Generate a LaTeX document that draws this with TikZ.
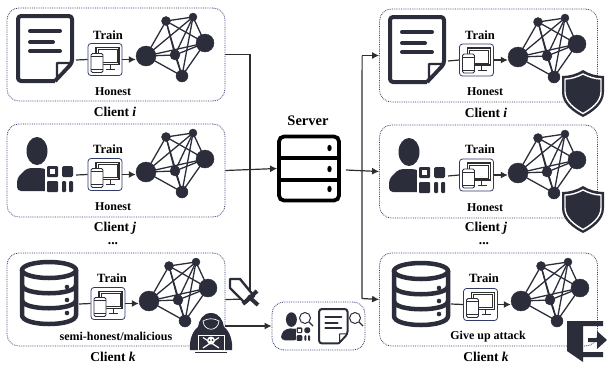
\documentclass[tikz,border=0pt]{standalone}
\usepackage{fontspec}
\setmainfont{Liberation Serif}
\usetikzlibrary{arrows.meta}
\definecolor{inkdark}{HTML}{2B2D3A}
\definecolor{boxnavy}{HTML}{2F3A6B}
\definecolor{wiregray}{HTML}{2E2E2E}
\newcommand{\bfsize}[1]{\fontsize{#1}{#1}\selectfont\bfseries}
\tikzset{
    clientbox/.style={draw=boxnavy,densely dotted,line width=0.8pt,rounded corners=12pt,minimum width=218pt,minimum height=93pt,inner sep=0pt},
    trainbox/.style={draw=boxnavy,line width=0.8pt,rounded corners=3pt,minimum width=34pt,minimum height=32pt,inner sep=0pt},
    netdot/.style={circle,fill=inkdark,draw=inkdark,inner sep=0pt},
    flow/.style={draw=wiregray,line width=1.2pt},
    flowtip/.style={flow,-{Latex[length=7pt,width=7pt]}},
    trainlbl/.style={inner sep=0pt,font=\bfsize{12.6}},
    statelbl/.style={inner sep=0pt,font=\bfsize{12}},
    clientlbl/.style={inner sep=0pt,font=\bfsize{13.5}},
    netw/.pic={
        \node[netdot,minimum size=20pt] (-l) at (0,0) {};
        \node[netdot,minimum size=9pt] (-t) at (20,-35) {};
        \node[netdot,minimum size=8pt] (-u) at (47,-39) {};
        \node[netdot,minimum size=18pt] (-r) at (59,-13) {};
        \node[netdot,minimum size=10pt] (-c) at (29,-1) {};
        \node[netdot,minimum size=12pt] (-b) at (36,20) {};
        \foreach \a/\b in {l/t,l/u,l/c,l/b,t/u,t/c,t/b,t/r,u/r,u/c,u/b,r/c,r/b,c/b,l/r}
            \draw[inkdark,line width=1.3pt] (-\a.center) -- (-\b.center);
    },
    docicon/.pic={
        \draw[inkdark,rounded corners=3pt,fill=white,line join=round] (37,65) -- (0,65) -- (0,0) -- (54,0) -- (54,47) -- (37,65);
        \draw[inkdark,fill=white,line join=round,line width=0.75*\pgflinewidth] (39,62) -- (39,47) -- (53,47) -- cycle;
        \draw[inkdark,line cap=round] (12,15) -- (42,15);
        \draw[inkdark,line cap=round] (12,26) -- (35,26);
        \draw[inkdark,line cap=round] (12,35) -- (42,35);
    },
    usericon/.pic={
        \fill[inkdark] (20,3) ellipse[x radius=10.5,y radius=14];
        \fill[inkdark,rounded corners=4pt] (0,43) -- (0,30) -- (10,20) -- (26,20) -- (33,23) -- (33,43) -- cycle;
        \fill[white] (28,17) rectangle (58,46);
        \fill[inkdark,rounded corners=1pt] (30,18) rectangle (41,29);
        \fill[white] (33,21) rectangle (38,26);
        \fill[inkdark,rounded corners=1.5pt] (45,18) rectangle (56,29);
        \fill[inkdark,rounded corners=1pt] (30,33) rectangle (41,44);
        \fill[inkdark,rounded corners=1pt] (45,33) rectangle (49,44);
        \fill[inkdark,rounded corners=1pt] (52,33) rectangle (56,44);
    },
    dbicon/.pic={
        \draw[inkdark,fill=white] (0,9) -- (0,54) .. controls (0,66) and (54,66) .. (54,54) -- (54,9);
        \draw[inkdark] (27,9) ellipse[x radius=27,y radius=8];
        \draw[inkdark] (0,24) .. controls (0,35) and (54,35) .. (54,24);
        \draw[inkdark] (0,39) .. controls (0,50) and (54,50) .. (54,39);
        \foreach \dy in {26,39,52} \fill[inkdark] (45,\dy) circle[radius=2.3];
    },
    devices/.pic={
        \draw[wiregray,line width=1.4pt,fill=white] (-9,-12) rectangle (14,5);
        \draw[wiregray,line width=0.6pt] (-7,-10) rectangle (12,3);
        \draw[inkdark,line width=0.6pt] (5,5) -- (5,10) -- (10,10);
        \draw[inkdark,line width=0.6pt] (1,10) -- (5,10);
        \draw[inkdark,line width=0.8pt,fill=white,rounded corners=1.5pt] (-14,-6) rectangle (-2,13);
        \draw[inkdark,line width=0.5pt] (-14,-3) -- (-2,-3);
        \draw[inkdark,line width=0.5pt] (-14,10) -- (-2,10);
    },
    shieldicon/.pic={
        \fill[inkdark] (0,0) .. controls (6,4) and (14,6) .. (21,6) -- (21,22) .. controls (21,34) and (10,42) .. (0,47) .. controls (-10,42) and (-21,34) .. (-21,22) -- (-21,6) .. controls (-14,6) and (-6,4) .. (0,0) -- cycle;
        \draw[white,line width=1.4pt] (0,4) .. controls (6,7) and (12,9) .. (18,9) -- (18,22) .. controls (18,32) and (8,39) .. (0,43.5) .. controls (-8,39) and (-18,32) .. (-18,22) -- (-18,9) .. controls (-12,9) and (-6,7) .. (0,4) -- cycle;
    },
    lensicon/.pic={
        \draw[inkdark,line width=1pt,fill=white] (0,0) circle[radius=5.5];
        \draw[inkdark,line width=1.2pt] (4,4) -- (8,8);
    }
}
\begin{document}
\begin{tikzpicture}[x=1pt,y=-1pt]
    \useasboundingbox (0,0) rectangle (607,365);

    % left column
    \node[clientbox] (boxi) at (116,54.5) {};
    \node[clientbox] (boxj) at (116,170.5) {};
    \node[clientbox] (boxk) at (116,299.5) {};

    \pic[line width=4pt] at (18,16) {docicon};
    \node[trainlbl] (traini) at (108,35) {Train};
    \coordinate (srci) at (76,60);
    \node[trainbox] (devi) at (105,59.5) {};
    \pic at (devi.center) {devices};
    \pic (neti) at (146,56) {netw};
    \draw[flow] (srci) -- (devi.west);
    \draw[flowtip] (devi.east) -- (devi.east -| neti-l.west);
    \node[statelbl] (honi) at (113,92) {Honest};
    \node[clientlbl] (cli) at (115,112) {Client \textit{i}};

    \pic at (17,148) {usericon};
    \node[trainlbl] (trainj) at (108,149) {Train};
    \coordinate (srcj) at (76,175);
    \node[trainbox] (devj) at (105,174.5) {};
    \pic at (devj.center) {devices};
    \pic (netj) at (146,172) {netw};
    \draw[flow] (srcj) -- (devj.west);
    \draw[flowtip] (devj.east) -- (devj.east -| netj-l.west);
    \node[statelbl] (honj) at (113,207) {Honest};
    \node[clientlbl] (clj) at (115,228) {Client \textit{j}};
    \node[clientlbl] (dotsl) at (113,243.5) {...};

    \pic[line width=4.5pt] at (22,261) {dbicon};
    \node[trainlbl] (traink) at (112,278) {Train};
    \coordinate (srck) at (79,304);
    \node[trainbox] (devk) at (108,303.5) {};
    \pic at (devk.center) {devices};
    \pic (netk) at (149,301) {netw};
    \draw[flow] (srck) -- (devk.west);
    \draw[flowtip] (devk.east) -- (devk.east -| netk-l.west);
    \node[statelbl] (honk) at (116,336) {semi-honest/malicious};
    \node[clientlbl] (clk) at (113,357) {Client \textit{k}};

    % right column
    \node[clientbox] (rboxi) at (488.5,55.5) {};
    \node[clientbox] (rboxj) at (488.5,171.5) {};
    \node[clientbox] (rboxk) at (488.5,299.5) {};

    \pic[line width=4pt] at (390,17) {docicon};
    \node[trainlbl] (rtraini) at (480,35) {Train};
    \coordinate (rsrci) at (448,61);
    \node[trainbox] (rdevi) at (476.5,60) {};
    \pic at (rdevi.center) {devices};
    \pic (rneti) at (518,57) {netw};
    \draw[flow] (rsrci) -- (rdevi.west);
    \draw[flowtip] (rdevi.east) -- (rdevi.east -| rneti-l.west);
    \node[statelbl] (rhoni) at (485,92) {Honest};
    \node[clientlbl] (rcli) at (486,113) {Client \textit{i}};
    \pic at (583,70) {shieldicon};

    \pic at (389,149) {usericon};
    \node[trainlbl] (rtrainj) at (480,149) {Train};
    \coordinate (rsrcj) at (448,176);
    \node[trainbox] (rdevj) at (476.5,175) {};
    \pic at (rdevj.center) {devices};
    \pic (rnetj) at (518,173) {netw};
    \draw[flow] (rsrcj) -- (rdevj.west);
    \draw[flowtip] (rdevj.east) -- (rdevj.east -| rnetj-l.west);
    \node[statelbl] (rhonj) at (485,208) {Honest};
    \node[clientlbl] (rclj) at (486,228) {Client \textit{j}};
    \node[clientlbl] (rdots) at (484,243.5) {...};
    \pic at (583,186) {shieldicon};

    \pic[line width=4.5pt] at (394,262) {dbicon};
    \node[trainlbl] (rtraink) at (484,278) {Train};
    \coordinate (rsrck) at (451,304);
    \node[trainbox] (rdevk) at (480.5,304.5) {};
    \pic at (rdevk.center) {devices};
    \pic (rnetk) at (521,301) {netw};
    \draw[flow] (rsrck) -- (rdevk.west);
    \draw[flowtip] (rdevk.east) -- (rdevk.east -| rnetk-l.west);
    \node[statelbl] (rhonk) at (488,337) {Give up attack};
    \node[clientlbl] (rclk) at (486,357) {Client \textit{k}};

    % exit door
    \fill[inkdark] (567,321) -- (603,321) -- (603,326) -- (583,326) -- (583,352) -- (603,352) -- (603,357) -- (583,357) -- (583,362) -- (567,351) -- cycle;
    \fill[inkdark] (588,338) -- (597,338) -- (597,331) -- (607,340) -- (597,349) -- (597,342) -- (588,342) -- cycle;

    % server
    \node[trainlbl,font=\bfsize{14.5}] (srvlbl) at (308,121) {Server};
    \node[draw=black,line width=3.8pt,rounded corners=5pt,minimum width=60pt,minimum height=64pt,inner sep=0pt] (server) at (309,168.5) {};
    \draw[black,line width=3.2pt] (server.west |- 0,158) -- (server.east |- 0,158);
    \draw[black,line width=3.2pt] (server.west |- 0,180) -- (server.east |- 0,180);
    \foreach \dy in {148,169,189} \fill[black] (329.5,\dy) ellipse[x radius=2.2,y radius=3.2];

    % links
    \coordinate (busl) at (250,299);
    \coordinate (busr) at (362,298.5);
    \coordinate (srvout) at (346,170);
    \draw[flow] (boxi.east) -| (busl);
    \draw[flow] (boxk.east) -- (busl);
    \draw[flowtip] (boxj.east) -- (server.west);
    \draw[flowtip] (srvout) -- (rboxj.west);
    \draw[flowtip] (rboxi.west) ++(-17,0) -- (rboxi.west);
    \draw[flow] (rboxi.west) ++(-17,0) -- (busr);
    \draw[flowtip] (busr) -- (rboxk.west);

    % sword
    \draw[inkdark,line width=2.4pt,fill=white,line join=round] (230,279) -- (240,279) -- (254,296) -- (245,303) -- (230,288) -- cycle;
    \draw[inkdark,line width=4pt] (243,304) -- (257,291);
    \draw[inkdark,line width=4pt] (248,296) -- (258,305);

    % small box
    \node[draw=boxnavy,densely dotted,line width=0.8pt,rounded corners=12pt,minimum width=93pt,minimum height=48pt,inner sep=0pt] (audit) at (318.5,326) {};
    \draw[flowtip] (225,326) -- (audit.west);
    \pic[scale=0.52] at (281,318) {usericon};
    \pic at (305,318) {lensicon};
    \pic[scale=0.53,line width=2pt] at (319,309) {docicon};
    \pic at (355,318) {lensicon};

    % hacker
    \fill[inkdark] (211,313) .. controls (219,313) and (223,320) .. (224,327) .. controls (230,331) and (233,342) .. (232,350) -- (190,350) .. controls (189,342) and (192,331) .. (198,327) .. controls (199,320) and (203,313) .. (211,313) -- cycle;
    \draw[white,line width=0.7pt] (203,321) .. controls (204,332) and (218,332) .. (219,321) .. controls (214,318) and (208,318) .. (203,321) -- cycle;
    \draw[white,fill=inkdark,line width=0.9pt] (198,335) rectangle (224,350);
    \draw[inkdark,line width=1pt] (195,352.5) -- (227,352.5);
    \fill[white] (211,340.5) circle[radius=4];
    \draw[white,line width=1.2pt] (203,337.5) -- (219,348);
    \draw[white,line width=1.2pt] (219,337.5) -- (203,348);
    \fill[inkdark] (209.5,340) circle[radius=1];
    \fill[inkdark] (212.5,340) circle[radius=1];
\end{tikzpicture}
\end{document}
